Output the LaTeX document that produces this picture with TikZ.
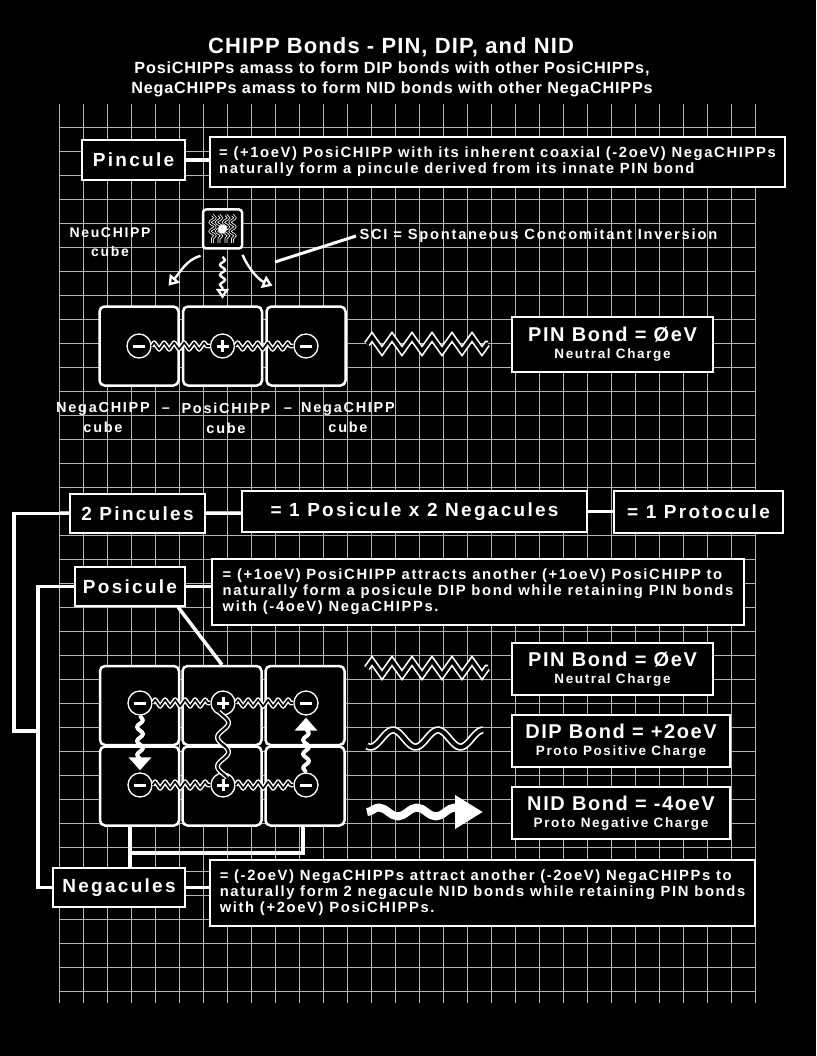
\documentclass[tikz,border=0pt]{standalone}
\usepackage{fontspec}
\setmainfont{Liberation Sans}
\newfontfamily\lblfont{Liberation Sans}[LetterSpace=12]
\newfontfamily\bodyfont{Liberation Sans}[LetterSpace=11]
\newfontfamily\bondfont{Liberation Sans}[LetterSpace=8]
\newfontfamily\headfont{Liberation Sans}[LetterSpace=5]
\usetikzlibrary{arrows.meta,positioning,decorations.pathmorphing,calc}
\definecolor{gGrid}{HTML}{B4B4B4}

\begin{document}
\begin{tikzpicture}[
  x=1pt, y=-1pt,
  gridln/.style={draw=gGrid, line width=0.8pt},
  lblbox/.style={draw=white, line width=2pt, fill=black, text=white, inner sep=0pt,
                 font=\lblfont\bfseries\fontsize{19}{22}\selectfont},
  txtbox/.style={draw=white, line width=1.6pt, fill=black, text=white, align=left,
                 inner sep=0pt, font=\bodyfont\bfseries\fontsize{14.8}{16}\selectfont},
  bondbox/.style={draw=white, line width=1.6pt, fill=black, text=white, align=center,
                  inner sep=0pt, font=\bfseries},
  cell/.style={draw=white, line width=2.5pt, rounded corners=5pt, fill=black,
               minimum width=79pt, minimum height=79pt},
  chg/.style={circle, draw=white, line width=1.3pt, fill=black, minimum size=24pt, inner sep=0pt},
  chgm/.style={chg, path picture={\draw[white, line width=3pt]
      ([xshift=-6pt]path picture bounding box.center) -- ([xshift=6pt]path picture bounding box.center);}},
  chgp/.style={chg, path picture={\draw[white, line width=3pt]
      ([xshift=-6pt]path picture bounding box.center) -- ([xshift=6pt]path picture bounding box.center)
      ([yshift=-6pt]path picture bounding box.center) -- ([yshift=6pt]path picture bounding box.center);}},
  link/.style={draw=white, line width=3.5pt},
  pinzz/.style={draw=white, double=black, line width=1.5pt, double distance=1.6pt, line join=round,
                decorate, decoration={zigzag, segment length=10pt, amplitude=3.5pt}},
  pinbig/.style={draw=white, double=black, line width=1.7pt, double distance=3.5pt, line join=miter,
                 decorate, decoration={zigzag, segment length=20pt, amplitude=7pt}},
  dipline/.style={draw=white, double=black, line width=1.7pt, double distance=4pt},
  dipsm/.style={draw=white, double=black, line width=1.4pt, double distance=2.2pt},
  nidbig/.style={draw=white, line width=8pt, line join=round, decorate,
                 decoration={snake, segment length=38pt, amplitude=4.5pt, post length=4pt},
                 -{Triangle[length=28pt, width=32pt]}},
  nidsm/.style={draw=white, line width=4pt, line join=round, decorate,
                decoration={snake, segment length=14pt, amplitude=3pt, post length=4pt},
                -{Triangle[length=13pt, width=22pt]}},
  sciarr/.style={draw=white, line width=2.4pt, -{Triangle[open, length=10pt, width=13pt]}},
  neuwave/.style={draw=white, double=black, line width=0.8pt, double distance=1.2pt,
                  decorate, decoration={snake, segment length=9pt, amplitude=2.5pt}},
  capt/.style={text=white, align=center, font=\lblfont\bfseries\fontsize{14.5}{20}\selectfont},
]
\fill[black] (0,0) rectangle (816,1056);
\useasboundingbox (0,0) rectangle (816,1056);

% ---------------------------------------------------------------- grid
\foreach \gx in {0,...,29}
  \draw[gridln] ({59+24*\gx},104) -- ({59+24*\gx},1003);
\foreach \gy in {0,...,36}
  \draw[gridln] (59,{127+24*\gy}) -- (755,{127+24*\gy});

% ---------------------------------------------------------------- title
\node[text=white, font=\headfont\bfseries\fontsize{22}{24}\selectfont] (title) at (391,47)
  {CHIPP Bonds - PIN, DIP, and NID};
\node[text=white, align=center, font=\headfont\bfseries\fontsize{16.2}{20}\selectfont] (sub) at (392,79)
  {PosiCHIPPs amass to form DIP bonds with other PosiCHIPPs,\\
   NegaCHIPPs amass to form NID bonds with other NegaCHIPPs};

% ---------------------------------------------------------------- pincule
\node[lblbox, minimum width=103pt, minimum height=40pt] (pinc) at (133.5,160) {Pincule};
\node[txtbox, minimum width=575pt, minimum height=50pt] (pinctxt) at (497.5,162)
  {= (+1oeV) PosiCHIPP with its inherent coaxial (-2oeV) NegaCHIPPs\\
   naturally form a pincule derived from its innate PIN bond};
\draw[link] (pinc.east) -- (pinc.east -| pinctxt.west);

% neuchipp cube
\node[draw=white, line width=2.5pt, rounded corners=3pt, fill=black, minimum size=39pt] (neu) at (222.5,229) {};
\foreach \wx in {-10,-3.5,3.5,10}
  \draw[neuwave] ($(neu.center)+(\wx,-14)$) -- ++(0,28);
\fill[white] (neu.center) circle (4.5);
\node[capt, font=\lblfont\bfseries\fontsize{14}{19}\selectfont] (neulbl) at (110,242) {NeuCHIPP\\cube};

\draw[sciarr] ($(neu.south)+(-22,6)$) .. controls +(-14,4) and +(12,-14) .. ($(neu.south)+(-54,36)$);
\draw[sciarr, decorate, decoration={snake, segment length=10pt, amplitude=2.5pt, post length=7pt}]
  ($(neu.south)+(0,7)$) -- ($(neu.south)+(0,49)$);
\draw[sciarr] ($(neu.south)+(20,5)$) .. controls +(6,14) and +(-14,-6) .. ($(neu.south)+(50,36)$);

\coordinate (sciA) at (275,262);
\node[text=white, anchor=west, font=\lblfont\bfseries\fontsize{14.7}{18}\selectfont] (sci) at (356,236)
  {SCI = Spontaneous Concomitant Inversion};
\draw[link, line width=3pt] (sciA) -- (sci.west);

% three cubes
\node[cell] (c1) at (139,346) {};
\node[cell] (c2) at (222.5,346) {};
\node[cell] (c3) at (306,346) {};
\node[chgm] (a1) at (c1.center) {};
\node[chgp] (a2) at (c2.center) {};
\node[chgm] (a3) at (c3.center) {};
\draw[pinzz] (a1.east) -- (a2.west);
\draw[pinzz] (a2.east) -- (a3.west);

\node[capt] (l1) at (103,418) {NegaCHIPP\\cube};
\node[capt] (l2) at (226,418) {PosiCHIPP\\cube};
\node[capt] (l3) at (348,418) {NegaCHIPP\\cube};
\node[capt] (d1) at (166,410) {–};
\node[capt] (d2) at (288,410) {–};

\coordinate (pinA) at (367,344);
\draw[pinbig] (pinA) -- ++(121,0);
\node[bondbox, minimum width=201pt, minimum height=55pt] (pinb1) at (612.5,344.5)
  {{\bondfont\fontsize{20}{20}\selectfont PIN Bond = ØeV}\\[5pt]
   {\lblfont\fontsize{13.5}{15}\selectfont Neutral Charge}};

% ---------------------------------------------------------------- protocule
\node[lblbox, minimum width=135pt, minimum height=39pt] (pins) at (137.5,513.5) {2 Pincules};
\node[lblbox, minimum width=345pt, minimum height=41pt] (poseq) at (414.5,511.5) {= 1 Posicule x 2 Negacules};
\node[lblbox, minimum width=169pt, minimum height=42pt] (proto) at (698.5,512) {= 1 Protocule};
\draw[link] (pins.east) -- (pins.east -| poseq.west);
\draw[link] (poseq.east) -- (poseq.east -| proto.west);

% posicule
\node[lblbox, minimum width=110pt, minimum height=39pt] (posi) at (130,586.5) {Posicule};
\node[txtbox, minimum width=532pt, minimum height=66pt] (positxt) at (478,592)
  {= (+1oeV) PosiCHIPP attracts another (+1oeV) PosiCHIPP to\\
   naturally form a posicule DIP bond while retaining PIN bonds\\
   with (-4oeV) NegaCHIPPs.};
\draw[link] (posi.east) -- (posi.east -| positxt.west);

% six cubes
\node[cell] (g11) at (139.5,705.5) {};
\node[cell] (g12) at (222,705.5) {};
\node[cell] (g13) at (305,705.5) {};
\node[cell] (g21) at (139.5,786) {};
\node[cell] (g22) at (222,786) {};
\node[cell] (g23) at (305,786) {};
\node[chgm] (m11) at (140,703) {};
\node[chgp] (p12) at (223,703) {};
\node[chgm] (m13) at (306,703) {};
\node[chgm] (m21) at (140,785) {};
\node[chgp] (p22) at (223,785) {};
\node[chgm] (m23) at (306,785) {};
\draw[pinzz] (m11.east) -- (p12.west);
\draw[pinzz] (p12.east) -- (m13.west);
\draw[pinzz] (m21.east) -- (p22.west);
\draw[pinzz] (p22.east) -- (m23.west);
\begin{scope}[shift={(p12.south)}]
  \draw[dipsm] plot[domain=-4:62, samples=80, smooth] ({5.5*sin(\x/29*360)}, \x);
\end{scope}
\draw[nidsm] (m11.south) -- ([yshift=2pt]m21.north);
\draw[nidsm] (m23.north) -- ([yshift=-2pt]m13.south);

\draw[link] ([xshift=-8pt]posi.south east) -- (g12.north);

% legend
\coordinate (pinB) at (367,668);
\draw[pinbig] (pinB) -- ++(121,0);
\node[bondbox, minimum width=201pt, minimum height=52pt] (pinb2) at (612.5,669)
  {{\bondfont\fontsize{20}{20}\selectfont PIN Bond = ØeV}\\[5pt]
   {\lblfont\fontsize{13.5}{15}\selectfont Neutral Charge}};
\coordinate (dipA) at (367,738.5);
\begin{scope}[shift={(dipA)}]
  \draw[dipline] plot[domain=0:116, samples=90, smooth] (\x, {-8.5*sin((\x-14.75)/45*360)});
\end{scope}
\node[bondbox, minimum width=218pt, minimum height=52pt] (dipb) at (621,741)
  {{\bondfont\fontsize{20}{20}\selectfont DIP Bond = +2oeV}\\[5pt]
   {\lblfont\fontsize{13.5}{15}\selectfont Proto Positive Charge}};
\coordinate (nidA) at (367,812);
\draw[nidbig] (nidA) -- ++(116,0);
\node[bondbox, minimum width=218pt, minimum height=52pt] (nidb) at (621,813)
  {{\bondfont\fontsize{20}{20}\selectfont NID Bond = -4oeV}\\[5pt]
   {\lblfont\fontsize{13.5}{15}\selectfont Proto Negative Charge}};

% ---------------------------------------------------------------- negacules
\node[lblbox, minimum width=132pt, minimum height=39pt] (negac) at (119,887.5) {Negacules};
\node[txtbox, minimum width=545pt, minimum height=66pt] (negtxt) at (482.5,893)
  {= (-2oeV) NegaCHIPPs attract another (-2oeV) NegaCHIPPs to\\
   naturally form 2 negacule NID bonds while retaining PIN bonds\\
   with (+2oeV) PosiCHIPPs.};
\draw[link] (negac.east) -- (negac.east -| negtxt.west);

\coordinate (brk) at (130,853);
\draw[link] ([xshift=-9.5pt]g21.south) -- (brk) -| ([xshift=-2pt]g23.south);
\draw[link] (brk) -- (brk |- negac.north);

% ---------------------------------------------------------------- left bus
\coordinate (jn) at (38,731);
\draw[link] (pins.west) -- ++(-55,0) |- (jn);
\draw[link] (posi.west) -- (posi.west -| jn) |- (negac.west);

\end{tikzpicture}
\end{document}
